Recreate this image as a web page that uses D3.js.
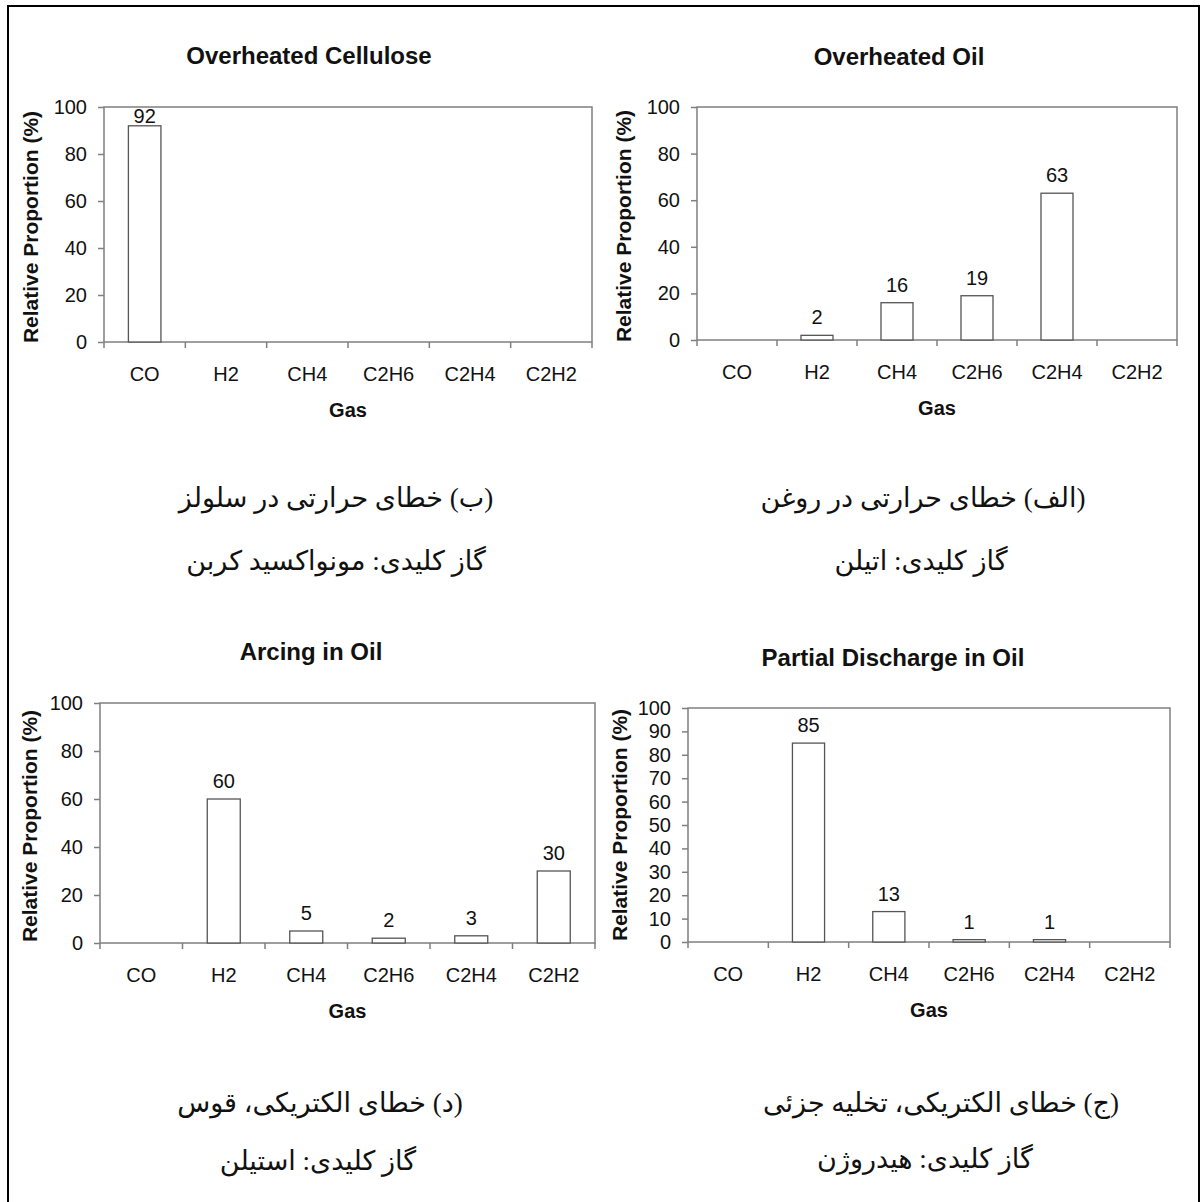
<!DOCTYPE html>
<html>
<head>
<meta charset="utf-8">
<script src="https://cdn.jsdelivr.net/npm/d3@7"></script>
<style>
  html, body { margin: 0; padding: 0; background: #fff; }
  svg { display: block; }
  .latin { font-family: "Liberation Sans", Arial, sans-serif; fill: #111; }
  .fa { font-family: "Times New Roman", "Liberation Serif", "DejaVu Sans", serif; fill: #111; }
</style>
</head>
<body>
<svg id="chart" width="1202" height="1202"></svg>
<script>
// Gas categories shared by all four panels
const categories = ["CO", "H2", "CH4", "C2H6", "C2H4", "C2H2"];

// Relative proportion (%) of each key gas per fault type
const celluloseValues = [92, 0, 0, 0, 0, 0];
const oilValues = [0, 2, 16, 19, 63, 0];
const arcingValues = [0, 60, 5, 2, 3, 30];
const dischargeValues = [0, 85, 13, 1, 1, 0];

const panelTitles = ["Overheated Cellulose", "Overheated Oil", "Arcing in Oil", "Partial Discharge in Oil"];

const ticksBy20 = [0, 20, 40, 60, 80, 100];
const ticksBy10 = [0, 10, 20, 30, 40, 50, 60, 70, 80, 90, 100];

const captions = [
  ["(ب) خطای حرارتی در سلولز", "گاز کلیدی: مونواکسید کربن"],
  ["(الف) خطای حرارتی در روغن", "گاز کلیدی: اتیلن"],
  ["(د) خطای الکتریکی، قوس", "گاز کلیدی: استیلن"],
  ["(ج) خطای الکتریکی، تخلیه جزئی", "گاز کلیدی: هیدروژن"]
];

const yAxisTitle = "Relative Proportion (%)";
const xAxisTitle = "Gas";

// Panel geometry
const panels = [
  { values: celluloseValues, ticks: ticksBy20, x0: 104, x1: 592, yTop: 107, yBot: 342,
    titleX: 309, titleY: 64, yLabX: 31, yLabY: 227, capX: [336, 336], capY: [507, 570] },
  { values: oilValues, ticks: ticksBy20, x0: 697, x1: 1177, yTop: 107, yBot: 340,
    titleX: 899, titleY: 65, yLabX: 624, yLabY: 226, capX: [923, 921], capY: [507, 570] },
  { values: arcingValues, ticks: ticksBy20, x0: 100, x1: 595, yTop: 703, yBot: 943,
    titleX: 311, titleY: 660, yLabX: 30, yLabY: 826, capX: [320, 318], capY: [1112, 1170] },
  { values: dischargeValues, ticks: ticksBy10, x0: 688, x1: 1170, yTop: 708, yBot: 942,
    titleX: 893, titleY: 666, yLabX: 620, yLabY: 825, capX: [941, 925], capY: [1112, 1168] }
];

const svg = d3.select("#chart");

// Outer frame
svg.append("rect")
  .attr("x", 8).attr("y", 6)
  .attr("width", 1191).attr("height", 1230)
  .attr("fill", "none").attr("stroke", "#000").attr("stroke-width", 2);

const axisColor = "#7f7f7f";
const barStroke = "#555";

panels.forEach((p, i) => {
  const g = svg.append("g");

  const x = d3.scaleBand().domain(categories).range([p.x0, p.x1]).paddingInner(0).paddingOuter(0);
  const y = d3.scaleLinear().domain([0, 100]).range([p.yBot, p.yTop]);

  // Plot area border
  g.append("rect")
    .attr("x", p.x0).attr("y", p.yTop)
    .attr("width", p.x1 - p.x0).attr("height", p.yBot - p.yTop)
    .attr("fill", "none").attr("stroke", axisColor).attr("stroke-width", 1.5);

  // Bars
  const barW = x.bandwidth() * 0.4;
  g.selectAll("rect.bar")
    .data(p.values.map((v, k) => ({ cat: categories[k], v })))
    .join("rect")
    .attr("class", "bar")
    .attr("x", d => x(d.cat) + (x.bandwidth() - barW) / 2)
    .attr("y", d => y(d.v))
    .attr("width", barW)
    .attr("height", d => y(0) - y(d.v))
    .attr("fill", "#fff")
    .attr("stroke", barStroke)
    .attr("stroke-width", 1.3);

  // Value labels
  g.selectAll("text.val")
    .data(p.values.map((v, k) => ({ cat: categories[k], v })).filter(d => d.v > 0))
    .join("text")
    .attr("class", "val latin")
    .attr("x", d => x(d.cat) + x.bandwidth() / 2)
    .attr("y", d => Math.max(y(d.v) - 11, p.yTop + 16))
    .attr("text-anchor", "middle")
    .attr("font-size", 20)
    .text(d => d.v);

  // Y axis
  const yAxis = g.append("g")
    .attr("transform", `translate(${p.x0},0)`)
    .call(d3.axisLeft(y).tickValues(p.ticks).tickSize(6).tickPadding(11).tickFormat(d3.format("d")));
  yAxis.select(".domain").remove();
  yAxis.selectAll("line").attr("stroke", axisColor).attr("stroke-width", 1.5);
  yAxis.selectAll("text").attr("class", "latin").attr("font-size", 20).attr("fill", "#222");

  // X axis: category labels centred in bands, ticks on band boundaries
  const xAxis = g.append("g")
    .attr("transform", `translate(0,${p.yBot})`)
    .call(d3.axisBottom(x).tickSize(0));
  xAxis.select(".domain").remove();
  xAxis.selectAll("text")
    .attr("class", "latin").attr("font-size", 20).attr("fill", "#222")
    .attr("y", 39).attr("dy", null);
  const bounds = categories.map(c => x(c)).concat([p.x1]);
  g.selectAll("line.xt")
    .data(bounds)
    .join("line")
    .attr("class", "xt")
    .attr("x1", d => d).attr("x2", d => d)
    .attr("y1", p.yBot).attr("y2", p.yBot + 6)
    .attr("stroke", axisColor).attr("stroke-width", 1.5);

  // Titles
  g.append("text")
    .attr("class", "latin")
    .attr("x", p.titleX).attr("y", p.titleY)
    .attr("text-anchor", "middle")
    .attr("font-size", 24).attr("font-weight", "bold")
    .text(panelTitles[i]);

  g.append("text")
    .attr("class", "latin")
    .attr("x", (p.x0 + p.x1) / 2).attr("y", p.yBot + 75)
    .attr("text-anchor", "middle")
    .attr("font-size", 20).attr("font-weight", "bold")
    .text(xAxisTitle);

  g.append("text")
    .attr("class", "latin")
    .attr("transform", `translate(${p.yLabX},${p.yLabY}) rotate(-90)`)
    .attr("dy", "0.35em")
    .attr("text-anchor", "middle")
    .attr("font-size", 21).attr("font-weight", "bold")
    .text(yAxisTitle);

  // Persian captions (right-to-left)
  captions[i].forEach((line, k) => {
    g.append("text")
      .attr("class", "fa")
      .attr("x", p.capX[k]).attr("y", p.capY[k])
      .attr("text-anchor", "middle")
      .attr("direction", "rtl")
      .attr("font-size", 27)
      .text(line);
  });
});
</script>
</body>
</html>
